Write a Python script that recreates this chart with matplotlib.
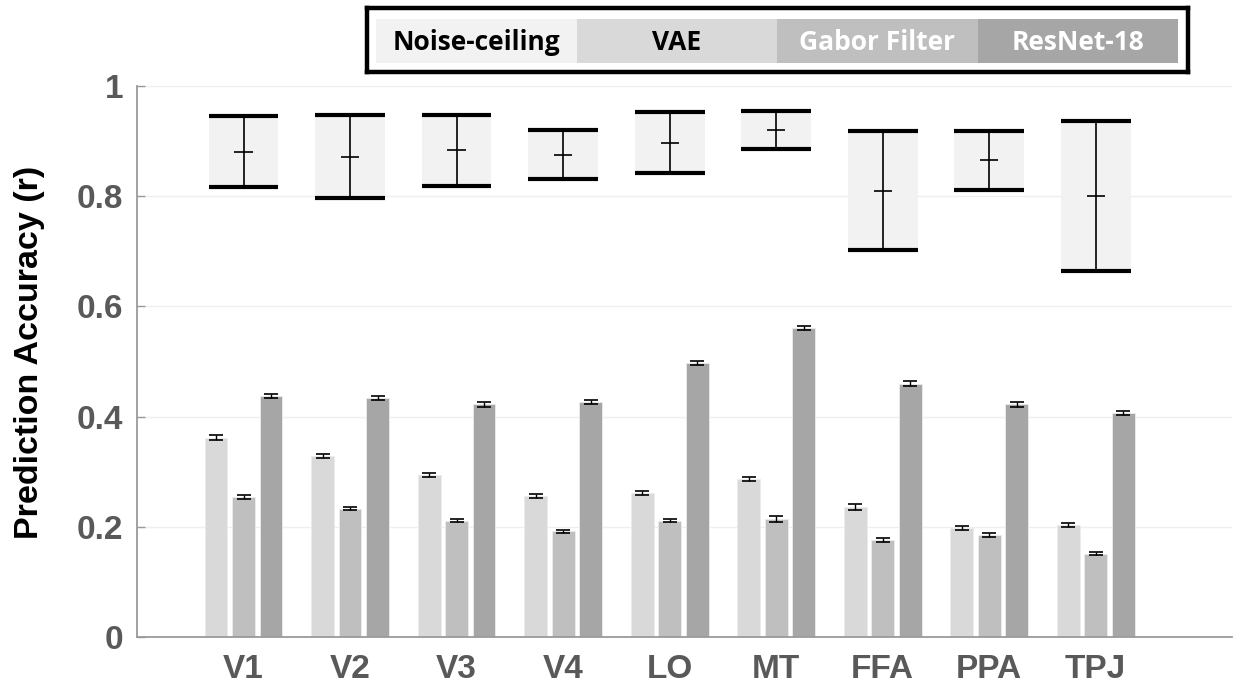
import matplotlib
matplotlib.use("Agg")
import matplotlib.pyplot as plt
from matplotlib.patches import Rectangle
import numpy as np

regions = ["V1", "V2", "V3", "V4", "LO", "MT", "FFA", "PPA", "TPJ"]
series_names = ["Noise-ceiling", "VAE", "Gabor Filter", "ResNet-18"]

vae = [0.362, 0.329, 0.294, 0.256, 0.261, 0.287, 0.236, 0.198, 0.203]
vae_err = [0.004, 0.004, 0.004, 0.004, 0.004, 0.004, 0.005, 0.004, 0.003]
gabor = [0.254, 0.233, 0.211, 0.192, 0.211, 0.214, 0.176, 0.185, 0.151]
gabor_err = [0.003, 0.003, 0.003, 0.003, 0.003, 0.005, 0.004, 0.003, 0.003]
resnet = [0.437, 0.434, 0.422, 0.426, 0.497, 0.561, 0.460, 0.422, 0.406]
resnet_err = [0.004, 0.004, 0.004, 0.004, 0.004, 0.004, 0.005, 0.004, 0.004]

nc_mean = [0.881, 0.871, 0.883, 0.875, 0.897, 0.920, 0.810, 0.865, 0.801]
nc_low = [0.817, 0.797, 0.819, 0.831, 0.843, 0.885, 0.703, 0.811, 0.665]
nc_high = [0.946, 0.947, 0.948, 0.921, 0.953, 0.955, 0.919, 0.919, 0.937]

yticks = [0, 0.2, 0.4, 0.6, 0.8, 1.0]
ytick_labels = ["0", "0.2", "0.4", "0.6", "0.8", "1"]

colors = ["#f2f2f2", "#d9d9d9", "#bfbfbf", "#a6a6a6"]
text_colors = ["black", "black", "white", "white"]

W, H = 1235, 683
fig = plt.figure(figsize=(W / 100, H / 100), dpi=100)
ax = fig.add_axes([137 / W, 46 / H, (1232 - 137) / W, 551 / H])

x = np.arange(1, len(regions) + 1)
bw = 0.215
off = 0.258

# noise ceiling boxes
box_w = 0.656
ax.bar(x, np.array(nc_high) - np.array(nc_low), bottom=nc_low, width=box_w,
       color=colors[0], edgecolor="none", zorder=2)
ax.hlines(nc_high, x - box_w / 2, x + box_w / 2, color="black", lw=3, zorder=3)
ax.hlines(nc_low, x - box_w / 2, x + box_w / 2, color="black", lw=3, zorder=3)
ax.vlines(x, nc_low, nc_high, color="black", lw=1.2, zorder=3)
ax.hlines(nc_mean, x - 0.085, x + 0.085, color="black", lw=1.2, zorder=3)

# model bars
for vals, errs, dx, col in [(vae, vae_err, -off, colors[1]),
                            (gabor, gabor_err, 0, colors[2]),
                            (resnet, resnet_err, off, colors[3])]:
    ax.bar(x + dx, vals, width=bw, color=col, edgecolor="#ececec", linewidth=0.6, zorder=2)
    ax.errorbar(x + dx, vals, yerr=errs, fmt="none", ecolor="black", elinewidth=1.0,
                capsize=5, capthick=1.2, zorder=4)

ax.set_xlim(0.0, 10.28)
ax.set_ylim(0, 1)
ax.set_yticks(yticks)
ax.set_yticklabels(ytick_labels)
ax.set_xticks(x)
ax.set_xticklabels(regions)
ax.grid(axis="y", color="#efefef", lw=1.0, zorder=0)
ax.set_axisbelow(True)

for s in ["top", "right"]:
    ax.spines[s].set_visible(False)
for s in ["left", "bottom"]:
    ax.spines[s].set_color("#9a9a9a")
    ax.spines[s].set_linewidth(1.3)

ax.tick_params(axis="y", direction="in", length=6, color="#9a9a9a", width=1,
               labelsize=24, labelcolor="#595959", pad=10)
ax.tick_params(axis="x", length=0, labelsize=24, labelcolor="#595959", pad=12)
for lab in ax.get_xticklabels() + ax.get_yticklabels():
    lab.set_fontfamily("Liberation Sans")
    lab.set_fontweight("bold")

ax.text((30 - 137) / 1095, (637 - 352) / 551, "Prediction Accuracy (r)",
        transform=ax.transAxes, rotation=90, ha="center", va="center",
        fontsize=24.5, fontweight="bold", family="Liberation Sans", color="black")

# legend box
lax = fig.add_axes([367 / W, (H - 72) / H, (1188 - 367) / W, 64 / H])
lax.set_xlim(0, 821)
lax.set_ylim(0, 64)
lax.set_xticks([])
lax.set_yticks([])
for s in lax.spines.values():
    s.set_linewidth(3.2)
    s.set_color("black")
cell_w = (812 - 10) / 4
for i, (name, col, tc) in enumerate(zip(series_names, colors, text_colors)):
    x0 = 9 + i * cell_w
    lax.add_patch(Rectangle((x0, 9), cell_w, 44, facecolor=col, edgecolor="none"))
    lax.text(x0 + cell_w / 2, 30, name, ha="center", va="center", fontsize=19,
             fontweight="bold", family="Open Sans", color=tc)

fig.savefig("out.png", dpi=100)
